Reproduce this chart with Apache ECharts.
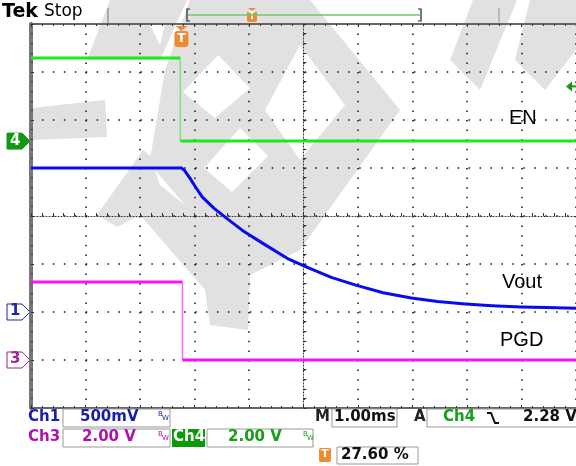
<!DOCTYPE html>
<html>
<head>
<meta charset="utf-8">
<script src="https://cdn.jsdelivr.net/npm/echarts@6/dist/echarts.min.js"></script>
<style>
  html, body { margin: 0; padding: 0; background: #fff; }
  #chart { width: 576px; height: 466px; }
</style>
</head>
<body>
<div id="chart"></div>
<script>
// time in ms relative to trigger, volts per channel
const trigPos = 2.76          // divisions from left edge (27.60 %)
const ch1Scale = 0.5, ch3Scale = 2, ch4Scale = 2
const ch1Ground = -2, ch3Ground = -3, ch4Ground = 1.56
const trigLevel = 2.28

const enTime = [-2.76, -0.02, -0.02, 7.24]
const enVolt = [3.46, 3.46, 0, 0]

const pgdTime = [-2.76, 0.02, 0.02, 7.24]
const pgdVolt = [3.25, 3.25, 0, 0]

const voutTime = [-2.76, 0, 0.05, 0.1, 0.15, 0.25, 0.38, 0.6, 0.82, 1.12, 1.48, 1.97, 2.29, 2.75, 3.2, 3.7, 4.22, 4.7, 5.21, 5.7, 6.23, 6.7, 7.24]
const voutVolt = [1.5, 1.5, 1.48, 1.44, 1.4, 1.31, 1.2, 1.08, 0.98, 0.85, 0.72, 0.55, 0.47, 0.36, 0.28, 0.2, 0.146, 0.11, 0.083, 0.065, 0.052, 0.046, 0.04]

const toPts = (ts, vs, scale, ground) =>
  ts.map((t, i) => [t - 5 + trigPos, ground + vs[i] / scale])

const chart = echarts.init(document.getElementById('chart'), null, { renderer: 'canvas' })

const en = toPts(enTime, enVolt, ch4Scale, ch4Ground)
const pgd = toPts(pgdTime, pgdVolt, ch3Scale, ch3Ground)
const vout = toPts(voutTime, voutVolt, ch1Scale, ch1Ground)

const font = '"DejaVu Sans", sans-serif'
const gray = '#e1e1e1'

// background logo watermark (rough)
const grayShapes = [
  [[110, 0], [187, 0], [160, 60], [87, 60]],
  [[31, 108], [105, 100], [107, 137], [31, 140]],
  [[190, 0], [310, 0], [400, 110], [300, 250], [250, 275], [200, 230], [150, 160], [165, 70]],
  [[143, 150], [200, 195], [250, 270], [248, 330], [210, 325], [205, 290], [140, 215], [117, 227], [97, 215]],
  [[473, 0], [517, 0], [480, 90], [450, 60]],
  [[530, 0], [576, 0], [576, 50], [545, 90], [515, 60]]
]
const whiteShapes = [
  [[150, 25], [165, 25], [160, 45]],
  [[218, 55], [250, 88], [215, 118], [183, 92]],
  [[240, 128], [268, 156], [232, 192], [204, 168]],
  [[300, 45], [345, 105], [300, 160], [265, 110]],
  [[155, 170], [185, 205], [160, 185]]
]
const watermark = grayShapes.map(p => ({ type: 'polygon', z: -5, silent: true, shape: { points: p }, style: { fill: gray } }))
  .concat(whiteShapes.map(p => ({ type: 'polygon', z: -4, silent: true, shape: { points: p }, style: { fill: '#fff' } })))

const hAxisBase = {
  type: 'value', min: -5, max: 5, interval: 1,
  axisLabel: { show: false }
}
const vAxisBase = {
  type: 'value', min: -4, max: 4, interval: 1,
  axisLabel: { show: false }
}

const edgeTick = { show: true, inside: true, length: 3, lineStyle: { color: '#333', width: 1 } }
const minorEdge = { show: true, splitNumber: 5, length: 2, lineStyle: { color: '#333', width: 1 } }

const option = {
  backgroundColor: '#fff',
  animation: false,
  grid: { left: 31, top: 24, width: 546, height: 384, show: false },
  xAxis: [
    {
      ...hAxisBase,
      axisLine: { onZero: true, lineStyle: { color: '#333', type: [1, 2], width: 1 } },
      axisTick: { show: true, inside: true, length: 3, lineStyle: { color: '#333' } },
      minorTick: { show: true, splitNumber: 5, length: 3, lineStyle: { color: '#333' } },
      splitLine: { show: true, lineStyle: { color: '#111', type: [1.5, 8.1], width: 1.5 } }
    },
    {
      ...hAxisBase, position: 'top',
      axisLine: { onZero: false, lineStyle: { color: '#666', width: 2 } },
      axisTick: edgeTick, minorTick: minorEdge, splitLine: { show: false }
    },
    {
      ...hAxisBase, position: 'bottom', offset: 0,
      axisLine: { onZero: false, lineStyle: { color: '#666', width: 2 } },
      axisTick: edgeTick, minorTick: minorEdge, splitLine: { show: false }
    }
  ],
  yAxis: [
    {
      ...vAxisBase,
      axisLine: { onZero: true, lineStyle: { color: '#333', type: [1, 2], width: 1 } },
      axisTick: { show: true, inside: true, length: 3, lineStyle: { color: '#333' } },
      minorTick: { show: true, splitNumber: 5, length: 3, lineStyle: { color: '#333' } },
      splitLine: { show: true, lineStyle: { color: '#111', type: [1.5, 9.44], width: 1.5 } }
    },
    {
      ...vAxisBase, position: 'left',
      axisLine: { onZero: false, lineStyle: { color: '#777', width: 4 } },
      axisTick: edgeTick, minorTick: minorEdge, splitLine: { show: false }
    }
  ],
  series: [
    {
      type: 'line', data: en.slice(0, 2), symbol: 'none',
      lineStyle: { color: '#1ee81e', width: 3 }, z: 3
    },
    {
      type: 'line', data: en.slice(1, 3), symbol: 'none',
      lineStyle: { color: '#80e080', width: 1.5 }, z: 3
    },
    {
      type: 'line', data: en.slice(2), symbol: 'none',
      lineStyle: { color: '#1ee81e', width: 3 }, z: 3
    },
    {
      type: 'line', data: pgd.slice(0, 2), symbol: 'none',
      lineStyle: { color: '#ff10ff', width: 3 }, z: 3
    },
    {
      type: 'line', data: pgd.slice(1, 3), symbol: 'none',
      lineStyle: { color: '#ff60ff', width: 1.5 }, z: 3
    },
    {
      type: 'line', data: pgd.slice(2), symbol: 'none',
      lineStyle: { color: '#ff10ff', width: 3 }, z: 3
    },
    {
      type: 'line', data: vout, symbol: 'none',
      lineStyle: { color: '#0a0af0', width: 3, join: 'round' }, z: 4
    }
  ],
  graphic: watermark
}

chart.setOption(option)

// decorations positioned from the axes
const px = (x, y) => chart.convertToPixel({ xAxisIndex: 0, yAxisIndex: 0 }, [x, y])

const g1 = px(0, ch1Ground), g3 = px(0, ch3Ground), g4 = px(0, ch4Ground)
const trig = px(trigPos - 5, 0)
const tl = px(5, ch4Ground + trigLevel / ch4Scale)

const chanMarker = (y, label, color, filled) => ({
  type: 'group', x: 7, y: y - 8, z: 10, children: [
    { type: 'polygon', shape: { points: [[0, 0], [15, 0], [23, 8], [15, 16], [0, 16]] },
      style: { fill: filled ? color : '#fff', stroke: color, lineWidth: 1 } },
    { type: 'text', x: 3, y: 0, style: { text: label, font: 'bold 15px ' + font, fill: filled ? '#fff' : color } }
  ]
})

const box = (x, y, w, h) => ({
  type: 'rect', shape: { x: x, y: y, width: w, height: h },
  style: { fill: '#fff', stroke: '#999', lineWidth: 1 }, z: 10
})
const txt = (x, y, s, color, size, extra) => ({
  type: 'text', x: x, y: y, z: 11,
  style: Object.assign({ text: s, font: (size || 15) + 'px ' + font, fill: color, textVerticalAlign: 'top' }, extra || {})
})

const blueTxt = '#1c1caa', magTxt = '#b012b0', grnTxt = '#16a016', orange = '#f08a30'

const deco = [
  // top status bar
  txt(2, 3, 'Tek', '#000', 18, { font: 'bold 19px ' + font, letterSpacing: -1 }),
  txt(44, 3, 'Stop', '#000', 17),
  { type: 'line', z: 10, shape: { x1: 108, y1: 8, x2: 108, y2: 23 }, style: { stroke: '#aaa', lineWidth: 2 } },
  { type: 'line', z: 10, shape: { x1: 499, y1: 8, x2: 499, y2: 23 }, style: { stroke: '#bbb', lineWidth: 2 } },
  { type: 'line', z: 10, shape: { x1: 188, y1: 15, x2: 420, y2: 15 }, style: { stroke: '#6cc46c', lineWidth: 1.5 } },
  { type: 'polyline', z: 10, shape: { points: [[190, 9], [187, 9], [187, 21], [190, 21]] }, style: { stroke: '#222', lineWidth: 1.2, fill: null } },
  { type: 'polyline', z: 10, shape: { points: [[418, 9], [421, 9], [421, 21], [418, 21]] }, style: { stroke: '#222', lineWidth: 1.2, fill: null } },
  { type: 'group', x: 252, y: 8, z: 10, children: [
    { type: 'polygon', shape: { points: [[-4, 0], [4, 0], [0, 3]] }, style: { fill: orange } },
    { type: 'rect', shape: { x: -5, y: 3, width: 10, height: 11, r: 2 }, style: { fill: orange } },
    { type: 'text', x: 0, y: 3, style: { text: 'T', font: 'bold 10px ' + font, fill: '#fff', textAlign: 'center' } }
  ] },
  // trigger position marker
  { type: 'group', x: trig[0], y: 26, z: 10, children: [
    { type: 'polygon', shape: { points: [[-6, 0], [6, 0], [0, 5]] }, style: { fill: orange } },
    { type: 'rect', shape: { x: -7, y: 5, width: 14, height: 16, r: 3 }, style: { fill: orange } },
    { type: 'text', x: 0, y: 6, style: { text: 'T', font: 'bold 13px ' + font, fill: '#fff', textAlign: 'center' } }
  ] },
  // trigger level arrow
  { type: 'polygon', z: 10, shape: { points: [[tl[0] - 10, tl[1]], [tl[0] - 4, tl[1] - 5], [tl[0] - 4, tl[1] + 5]] }, style: { fill: '#129a12' } },
  { type: 'line', z: 10, shape: { x1: tl[0] - 5, y1: tl[1], x2: tl[0], y2: tl[1] }, style: { stroke: '#129a12', lineWidth: 2 } },
  chanMarker(g4[1], '4', '#119a11', true),
  chanMarker(g1[1], '1', '#2222aa', false),
  chanMarker(g3[1], '3', '#a020a0', false),
  // trace labels
  txt(509, 108, 'EN', '#000', 20, { font: '20px "Liberation Sans", Arial, sans-serif' }),
  txt(502, 272, 'Vout', '#000', 20, { font: '20px "Liberation Sans", Arial, sans-serif' }),
  txt(500, 330, 'PGD', '#000', 20, { font: '20px "Liberation Sans", Arial, sans-serif' }),
  // bottom readouts
  txt(28, 410, 'Ch1', blueTxt, 15, { font: 'bold 15px ' + font }),
  box(63, 409, 107, 18),
  txt(80, 410, '500mV', blueTxt, 15, { font: 'bold 15px ' + font, letterSpacing: 1 }),
  txt(158, 411, 'B', blueTxt, 7), txt(162, 415, 'W', blueTxt, 7),
  txt(28, 430, 'Ch3', magTxt, 15, { font: 'bold 15px ' + font }),
  box(63, 429, 107, 18),
  txt(82, 430, '2.00 V', magTxt, 15, { font: 'bold 15px ' + font, letterSpacing: 1 }),
  txt(158, 431, 'B', magTxt, 7), txt(162, 435, 'W', magTxt, 7),
  { type: 'rect', z: 10, shape: { x: 172, y: 429, width: 33, height: 18 }, style: { fill: '#0a9a0a' } },
  txt(173, 430, 'Ch4', '#fff', 15, { font: 'bold 15px ' + font }),
  box(207, 429, 106, 18),
  txt(228, 430, '2.00 V', grnTxt, 15, { font: 'bold 15px ' + font, letterSpacing: 1 }),
  txt(303, 431, 'B', grnTxt, 7), txt(307, 435, 'W', grnTxt, 7),
  txt(315, 410, 'M', '#222', 15, { font: 'bold 15px ' + font }),
  box(332, 409, 65, 18),
  txt(334, 410, '1.00ms', '#111', 15, { font: 'bold 15px ' + font, letterSpacing: 0.5 }),
  txt(414, 410, 'A', '#222', 15, { font: 'bold 15px ' + font }),
  box(427, 409, 155, 18),
  txt(443, 410, 'Ch4', grnTxt, 15, { font: 'bold 15px ' + font }),
  { type: 'polyline', z: 11, shape: { points: [[487, 413], [491, 413], [495, 423], [499, 423]] }, style: { stroke: '#111', lineWidth: 2, fill: null } },
  txt(523, 410, '2.28 V', '#111', 15, { font: 'bold 15px ' + font, letterSpacing: 1 }),
  { type: 'rect', z: 10, shape: { x: 319, y: 448, width: 12, height: 14, r: 2 }, style: { fill: orange } },
  txt(325, 449, 'T', '#fff', 11, { font: 'bold 11px ' + font, textAlign: 'center' }),
  box(337, 447, 81, 17),
  txt(341, 448, '27.60 %', '#111', 15, { font: 'bold 15px ' + font, letterSpacing: 0.5 })
]

chart.setOption({ graphic: watermark.concat(deco) })
</script>
</body>
</html>
